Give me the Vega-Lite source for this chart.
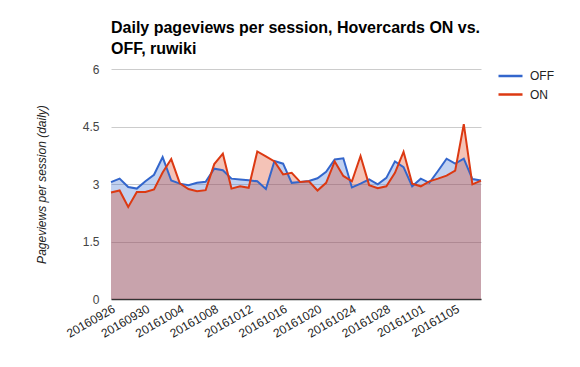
{
  "$schema": "https://vega.github.io/schema/vega-lite/v6.json",
  "width": 370,
  "height": 230,
  "autosize": {"type": "none"},
  "padding": {"left": 111, "top": 69, "right": 99, "bottom": 68},
  "background": "white",
  "config": {"font": "Liberation Sans", "view": {"stroke": null}},
  "title": {
    "text": ["Daily pageviews per session, Hovercards ON vs.", "OFF, ruwiki"],
    "anchor": "start",
    "frame": "group",
    "font": "Liberation Sans",
    "fontSize": 16,
    "fontWeight": "bold",
    "color": "#000000",
    "lineHeight": 21,
    "offset": 6
  },
  "datasets": {
    "wide": [
      {"date": "20160926", "OFF": 3.05, "ON": 2.78},
      {"date": "20160927", "OFF": 3.14, "ON": 2.83},
      {"date": "20160928", "OFF": 2.92, "ON": 2.40},
      {"date": "20160929", "OFF": 2.88, "ON": 2.79},
      {"date": "20160930", "OFF": 3.07, "ON": 2.79},
      {"date": "20161001", "OFF": 3.24, "ON": 2.86},
      {"date": "20161002", "OFF": 3.70, "ON": 3.30},
      {"date": "20161003", "OFF": 3.09, "ON": 3.65},
      {"date": "20161004", "OFF": 3.01, "ON": 3.02},
      {"date": "20161005", "OFF": 2.97, "ON": 2.87},
      {"date": "20161006", "OFF": 3.03, "ON": 2.81},
      {"date": "20161007", "OFF": 3.06, "ON": 2.84},
      {"date": "20161008", "OFF": 3.40, "ON": 3.52},
      {"date": "20161009", "OFF": 3.36, "ON": 3.79},
      {"date": "20161010", "OFF": 3.14, "ON": 2.88},
      {"date": "20161011", "OFF": 3.12, "ON": 2.94},
      {"date": "20161012", "OFF": 3.10, "ON": 2.90},
      {"date": "20161013", "OFF": 3.07, "ON": 3.85},
      {"date": "20161014", "OFF": 2.87, "ON": 3.72},
      {"date": "20161015", "OFF": 3.60, "ON": 3.59},
      {"date": "20161016", "OFF": 3.53, "ON": 3.25},
      {"date": "20161017", "OFF": 3.03, "ON": 3.29},
      {"date": "20161018", "OFF": 3.05, "ON": 3.05},
      {"date": "20161019", "OFF": 3.08, "ON": 3.07},
      {"date": "20161020", "OFF": 3.15, "ON": 2.83},
      {"date": "20161021", "OFF": 3.32, "ON": 3.03},
      {"date": "20161022", "OFF": 3.64, "ON": 3.59},
      {"date": "20161023", "OFF": 3.67, "ON": 3.21},
      {"date": "20161024", "OFF": 2.91, "ON": 3.07},
      {"date": "20161025", "OFF": 3.01, "ON": 3.73},
      {"date": "20161026", "OFF": 3.12, "ON": 2.97},
      {"date": "20161027", "OFF": 2.99, "ON": 2.89},
      {"date": "20161028", "OFF": 3.16, "ON": 2.94},
      {"date": "20161029", "OFF": 3.59, "ON": 3.29},
      {"date": "20161030", "OFF": 3.44, "ON": 3.84},
      {"date": "20161031", "OFF": 2.94, "ON": 3.01},
      {"date": "20161101", "OFF": 3.14, "ON": 2.94},
      {"date": "20161102", "OFF": 3.03, "ON": 3.07},
      {"date": "20161103", "OFF": 3.34, "ON": 3.14},
      {"date": "20161104", "OFF": 3.66, "ON": 3.22},
      {"date": "20161105", "OFF": 3.53, "ON": 3.35},
      {"date": "20161106", "OFF": 3.66, "ON": 4.56},
      {"date": "20161107", "OFF": 3.13, "ON": 2.99},
      {"date": "20161108", "OFF": 3.09, "ON": 3.09}
    ]
  },
  "data": {"name": "wide"},
  "transform": [{"fold": ["OFF", "ON"], "as": ["series", "value"]}],
  "encoding": {
    "x": {
      "field": "date",
      "type": "ordinal",
      "scale": {"type": "point", "padding": 0},
      "axis": {
        "title": null,
        "values": ["20160926", "20160930", "20161004", "20161008", "20161012", "20161016", "20161020", "20161024", "20161028", "20161101", "20161105"],
        "labelAngle": -30,
        "labelFontSize": 12,
        "labelColor": "#222222",
        "labelPadding": 4,
        "ticks": false,
        "grid": false,
        "domainColor": "#333333",
        "domainWidth": 1.5
      }
    },
    "y": {
      "field": "value",
      "type": "quantitative",
      "stack": null,
      "scale": {"domain": [0, 6], "nice": false, "zero": true},
      "axis": {
        "title": "Pageviews per session (daily)",
        "titleFontStyle": "italic",
        "titleFontWeight": "normal",
        "titleFontSize": 12,
        "titleColor": "#222222",
        "titlePadding": 34,
        "values": [0, 1.5, 3, 4.5, 6],
        "format": ".1~f",
        "labelFontSize": 12,
        "labelColor": "#444444",
        "labelPadding": 12,
        "domain": false,
        "ticks": false,
        "grid": true,
        "gridColor": "#cccccc"
      }
    },
    "color": {
      "field": "series",
      "type": "nominal",
      "scale": {"domain": ["OFF", "ON"], "range": ["#3366cc", "#dc3912"]},
      "legend": {
        "title": null,
        "orient": "right",
        "offset": 12,
        "padding": 0,
        "symbolType": "stroke",
        "symbolSize": 576,
        "symbolStrokeWidth": 2.5,
        "symbolOpacity": 1,
        "clipHeight": 14,
        "rowPadding": 4.5,
        "labelFontSize": 12,
        "labelColor": "#222222",
        "labelOffset": 6
      }
    }
  },
  "layer": [
    {"mark": {"type": "area", "opacity": 0.3}},
    {"mark": {"type": "line", "strokeWidth": 2}}
  ]
}
